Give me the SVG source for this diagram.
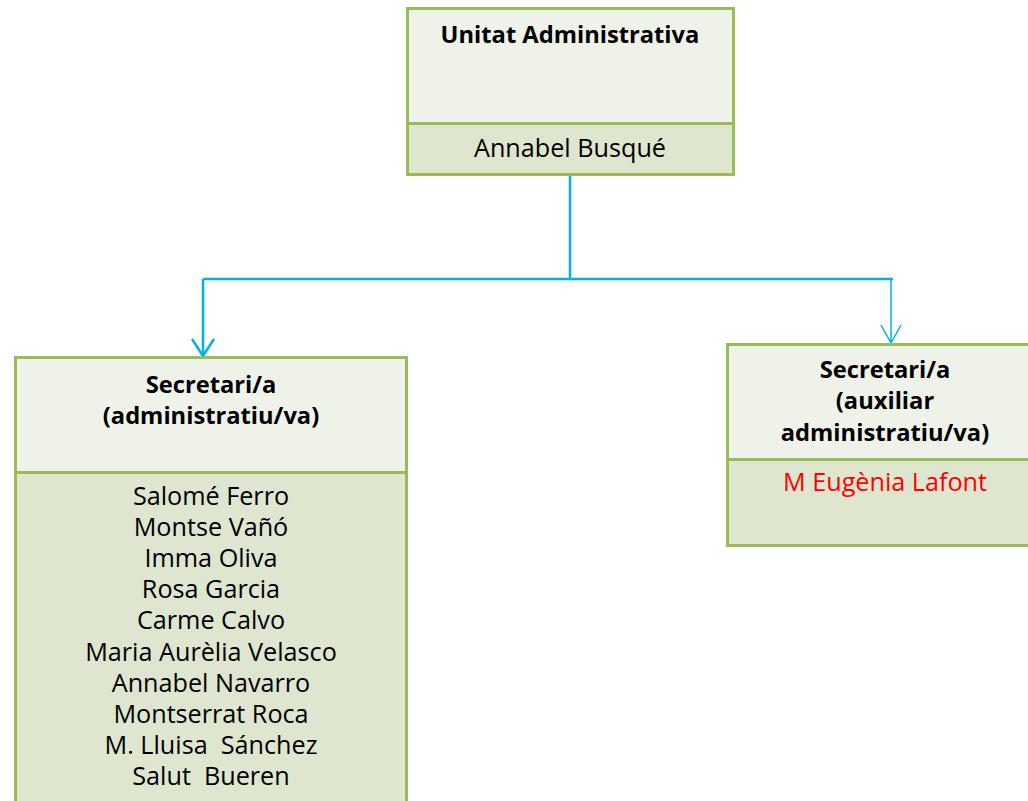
<svg xmlns="http://www.w3.org/2000/svg" width="1028" height="801" viewBox="0 0 1028 801">
<style>
.top{fill:#EFF2E9;stroke:#9BBB59;stroke-width:3}
.bot{fill:#DEE6D0;stroke:#9BBB59;stroke-width:3}
text{font-family:"Open Sans","Noto Sans",sans-serif;font-size:25.2px;fill:#000;text-anchor:middle;white-space:pre}
.b{font-weight:bold;font-size:23.7px}
.red{fill:#FF0000}
.c{fill:none;stroke:#00B0F0;stroke-width:2.5}
.ct{fill:none;stroke:#00B0F0;stroke-width:1.5}
</style>
<rect width="1028" height="801" fill="#fff"/>
<g id="connectors">
<path class="c" d="M570,175 V279 M203,279 H893 M203,279 V356"/>
<path class="c" d="M192,339 L203,356 L214,339"/>
<path class="ct" d="M891,279 V343"/>
<path class="ct" d="M881,325 L891,343 L901,325"/>
</g>
<g id="unitat">
<rect class="top" x="407.5" y="8.5" width="326" height="115"/>
<rect class="bot" x="407.5" y="123.5" width="326" height="51"/>
<text class="b" x="570" y="43">Unitat Administrativa</text>
<text x="570" y="157">Annabel Busqué</text>
</g>
<g id="secretari-admin">
<rect class="top" x="15.5" y="357.5" width="391" height="115"/>
<rect class="bot" x="15.5" y="472.5" width="391" height="340"/>
<text class="b" x="211" y="393">Secretari/a</text>
<text class="b" x="211" y="424">(administratiu/va)</text>
<text x="211" y="505">Salomé Ferro</text>
<text x="211" y="536">Montse Vañó</text>
<text x="211" y="567">Imma Oliva</text>
<text x="211" y="598">Rosa Garcia</text>
<text x="211" y="629">Carme Calvo</text>
<text x="211" y="661">Maria Aurèlia Velasco</text>
<text x="211" y="692">Annabel Navarro</text>
<text x="211" y="723">Montserrat Roca</text>
<text x="211" y="754" xml:space="preserve">M. Lluisa  Sánchez</text>
<text x="211" y="785" xml:space="preserve">Salut  Bueren</text>
</g>
<g id="secretari-aux">
<rect class="top" x="727.5" y="344.5" width="320" height="115"/>
<rect class="bot" x="727.5" y="459.5" width="320" height="86"/>
<text class="b" x="885" y="378">Secretari/a</text>
<text class="b" x="885" y="409">(auxiliar</text>
<text class="b" x="885" y="441">administratiu/va)</text>
<text class="red" x="885" y="491">M Eugènia Lafont</text>
</g>
</svg>
